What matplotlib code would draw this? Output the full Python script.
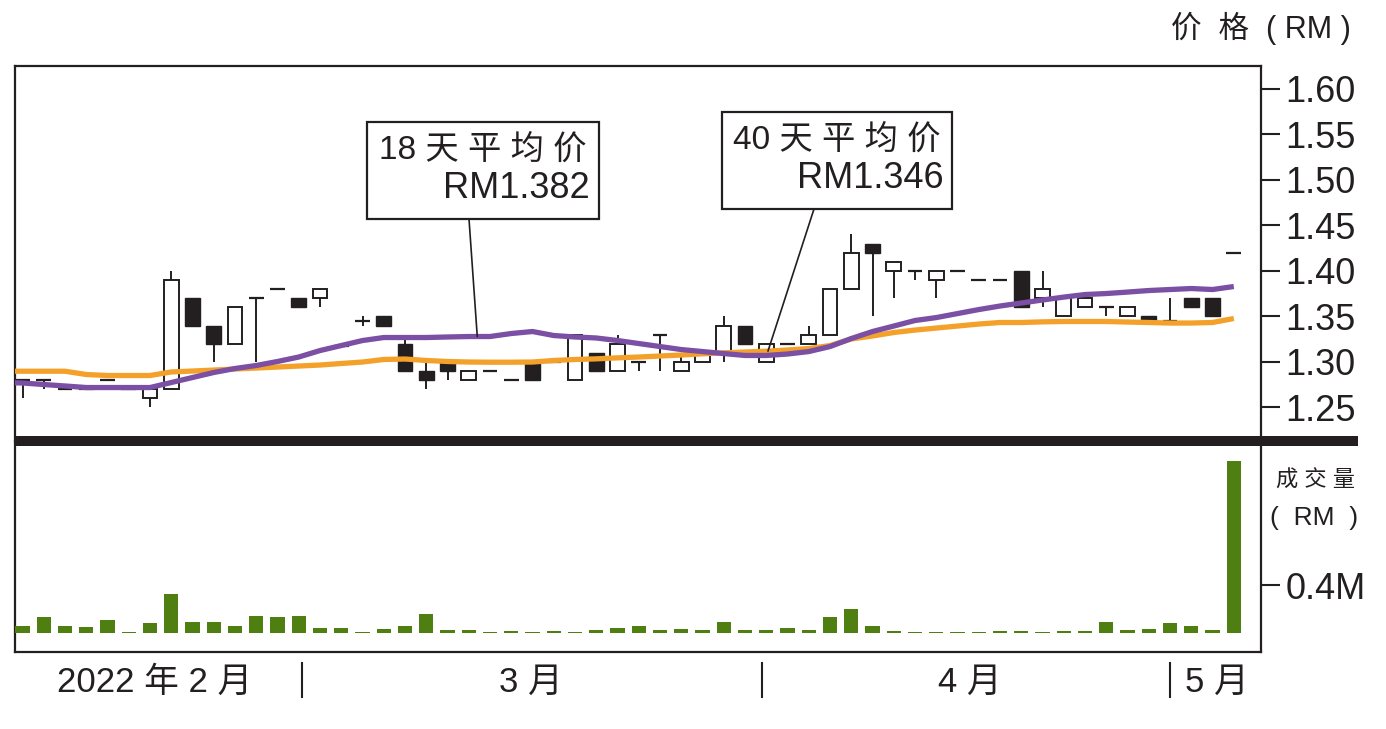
import numpy as np
import matplotlib
matplotlib.use('Agg')
import matplotlib.pyplot as plt
from matplotlib.patches import Rectangle
from matplotlib.transforms import blended_transform_factory

plt.rcParams['font.family'] = ['Liberation Sans', 'Noto Sans CJK SC', 'DejaVu Sans']

# ---------------- data ----------------
days = np.arange(58)
opens = [1.28, 1.28, 1.27, 1.27, 1.28, 1.27, 1.26, 1.27, 1.37, 1.34,
         1.32, 1.37, 1.38, 1.37, 1.37, 1.318, 1.345, 1.35, 1.32, 1.29,
         1.30, 1.28, 1.29, 1.28, 1.30, 1.30, 1.28, 1.31, 1.29, 1.30,
         1.33, 1.29, 1.30, 1.31, 1.34, 1.30, 1.32, 1.32, 1.33, 1.38,
         1.43, 1.40, 1.40, 1.39, 1.40, 1.39, 1.39, 1.40, 1.37, 1.35,
         1.36, 1.36, 1.35, 1.35, 1.345, 1.37, 1.37, 1.42]
highs = [1.28, 1.28, 1.27, 1.27, 1.28, 1.27, 1.27, 1.40, 1.37, 1.34,
         1.36, 1.37, 1.38, 1.37, 1.38, 1.318, 1.35, 1.35, 1.33, 1.30,
         1.30, 1.29, 1.29, 1.28, 1.30, 1.30, 1.33, 1.31, 1.33, 1.30,
         1.33, 1.31, 1.31, 1.35, 1.34, 1.32, 1.32, 1.34, 1.38, 1.44,
         1.43, 1.41, 1.40, 1.40, 1.40, 1.39, 1.39, 1.40, 1.40, 1.37,
         1.37, 1.36, 1.36, 1.35, 1.37, 1.37, 1.37, 1.42]
lows = [1.26, 1.27, 1.27, 1.27, 1.28, 1.27, 1.25, 1.27, 1.34, 1.30,
        1.32, 1.30, 1.38, 1.36, 1.36, 1.318, 1.34, 1.34, 1.29, 1.27,
        1.28, 1.28, 1.29, 1.28, 1.28, 1.30, 1.28, 1.29, 1.29, 1.29,
        1.29, 1.29, 1.30, 1.30, 1.32, 1.30, 1.32, 1.32, 1.33, 1.38,
        1.35, 1.37, 1.39, 1.37, 1.40, 1.39, 1.39, 1.36, 1.36, 1.35,
        1.36, 1.35, 1.35, 1.345, 1.345, 1.36, 1.35, 1.42]
closes = [1.28, 1.28, 1.27, 1.27, 1.28, 1.27, 1.27, 1.39, 1.34, 1.32,
          1.36, 1.37, 1.38, 1.36, 1.38, 1.318, 1.345, 1.34, 1.29, 1.28,
          1.29, 1.29, 1.29, 1.28, 1.28, 1.30, 1.33, 1.29, 1.32, 1.30,
          1.33, 1.30, 1.31, 1.34, 1.32, 1.32, 1.32, 1.33, 1.38, 1.42,
          1.42, 1.41, 1.40, 1.40, 1.40, 1.39, 1.39, 1.36, 1.38, 1.37,
          1.37, 1.36, 1.36, 1.345, 1.345, 1.36, 1.35, 1.42]
volume_m = [0.056, 0.129, 0.056, 0.045, 0.106, 0.008, 0.078, 0.324, 0.092, 0.092,
            0.056, 0.143, 0.129, 0.143, 0.042, 0.042, 0.008, 0.031, 0.056, 0.154,
            0.020, 0.020, 0.008, 0.017, 0.010, 0.017, 0.008, 0.020, 0.042, 0.056,
            0.020, 0.031, 0.020, 0.092, 0.020, 0.020, 0.042, 0.020, 0.129, 0.198,
            0.056, 0.017, 0.008, 0.008, 0.008, 0.008, 0.017, 0.017, 0.008, 0.017,
            0.017, 0.092, 0.022, 0.031, 0.078, 0.056, 0.020, 1.44]
ma_days = np.arange(-1, 58)
ma18 = [1.2774, 1.2769, 1.2752, 1.2736, 1.2719, 1.2719, 1.2719, 1.2719, 1.2774, 1.2829,
        1.2884, 1.2928, 1.2961, 1.3005, 1.3054, 1.3125, 1.3180, 1.3235, 1.3268, 1.3268,
        1.3268, 1.3274, 1.3279, 1.3279, 1.3312, 1.3334, 1.3290, 1.3274, 1.3263, 1.3235,
        1.3202, 1.3169, 1.3136, 1.3114, 1.3092, 1.3071, 1.3071, 1.3087, 1.3114, 1.3169,
        1.3257, 1.3334, 1.3394, 1.3455, 1.3487, 1.3531, 1.3575, 1.3614, 1.3647, 1.3680,
        1.3712, 1.3740, 1.3751, 1.3767, 1.3784, 1.3795, 1.3806, 1.3795, 1.3828]
ma40 = [1.2898, 1.2898, 1.2898, 1.2898, 1.2862, 1.2851, 1.2851, 1.2851, 1.2890, 1.2900,
        1.2911, 1.2922, 1.2933, 1.2944, 1.2955, 1.2966, 1.2983, 1.2999, 1.3027, 1.3032,
        1.3016, 1.3005, 1.2999, 1.2997, 1.2997, 1.2999, 1.3016, 1.3027, 1.3034, 1.3045,
        1.3054, 1.3065, 1.3076, 1.3089, 1.3100, 1.3109, 1.3118, 1.3131, 1.3147, 1.3180,
        1.3252, 1.3285, 1.3323, 1.3350, 1.3372, 1.3394, 1.3416, 1.3433, 1.3433, 1.3440,
        1.3444, 1.3444, 1.3444, 1.3438, 1.3433, 1.3427, 1.3427, 1.3433, 1.3477]
price_ticks = [1.25, 1.30, 1.35, 1.40, 1.45, 1.50, 1.55, 1.60]
volume_ticks = [0.4]
volume_tick_labels = ['0.4M']
month_labels = ['2022 年 2 月', '3 月', '4 月', '5 月']
month_label_pos = [6.24, 23.9, 44.6, 56.2]
month_dividers = [13.15, 34.8, 54.0]
ma18_label = '18 天 平 均 价'
ma18_value = 'RM1.382'
ma40_label = '40 天 平 均 价'
ma40_value = 'RM1.346'

# ---------------- style ----------------
ink = '#231f20'
purple = '#7B4FA3'
orange = '#F4A12C'
green = '#4F7F10'

W, H = 1386, 729
def fx(x):
    return x / W
def fy(y):
    return 1 - y / H

fig = plt.figure(figsize=(W / 100, H / 100), dpi=100)
fig.patch.set_facecolor('white')

ax = fig.add_axes([fx(15), fy(441), fx(1261) - fx(15), fy(66) - fy(441)])
axv = fig.add_axes([fx(15), fy(652), fx(1261) - fx(15), fy(441) - fy(652)], sharex=ax)

o = np.array(opens); h = np.array(highs); l = np.array(lows); c = np.array(closes)
body_w = 0.7
doji = np.isclose(o, c)
up = (c > o) & ~doji
down = (c < o) & ~doji

ax.vlines(days, l, h, color=ink, lw=1.4, zorder=2)
ax.bar(days[up], (c - o)[up], bottom=o[up], width=body_w, facecolor='white',
       edgecolor=ink, lw=1.4, zorder=3)
ax.bar(days[down], (o - c)[down], bottom=c[down], width=body_w, facecolor=ink,
       edgecolor=ink, lw=1.0, zorder=3)
ax.hlines(c[doji], days[doji] - body_w / 2, days[doji] + body_w / 2, color=ink,
          lw=1.6, zorder=3)

ax.plot(ma_days, ma40, color=orange, lw=3.8, zorder=4, solid_capstyle='butt')
ax.plot(ma_days, ma18, color=purple, lw=3.8, zorder=5, solid_capstyle='butt')

ax.set_xlim(-0.353, 58.28)
ax.set_ylim(1.2132, 1.6249)
ax.yaxis.tick_right()
ax.set_yticks(price_ticks)
ax.set_yticklabels([f'{t:.2f}' for t in price_ticks])
ax.tick_params(axis='y', direction='out', length=13.7, width=1.5, pad=4,
               labelsize=26, colors=ink)
ax.tick_params(axis='x', bottom=False, labelbottom=False)
for s in ['left', 'right', 'top']:
    ax.spines[s].set_linewidth(1.6)
    ax.spines[s].set_color(ink)
ax.spines['bottom'].set_visible(False)

# volume
axv.bar(days, volume_m, width=0.67, color=green, zorder=3)
axv.set_ylim(-0.1618, 1.6075)
axv.yaxis.tick_right()
axv.set_yticks(volume_ticks)
axv.set_yticklabels(volume_tick_labels)
axv.tick_params(axis='y', direction='out', length=13.7, width=1.5, pad=4,
                labelsize=26, colors=ink)
axv.tick_params(axis='x', bottom=False, labelbottom=False)
for s in ['left', 'right', 'bottom']:
    axv.spines[s].set_linewidth(1.6)
    axv.spines[s].set_color(ink)
axv.spines['top'].set_visible(False)

# month labels & dividers
trans = blended_transform_factory(axv.transData, axv.transAxes)
for lab, pos in zip(month_labels, month_label_pos):
    axv.text(pos, -0.142, lab, transform=trans, ha='center', va='center',
             fontsize=25, color=ink)
for d in month_dividers:
    axv.plot([d, d], [-0.052, -0.213], transform=trans, clip_on=False,
             color=ink, lw=1.5)

# thick separator
fig.add_artist(Rectangle((fx(14), fy(446)), fx(1358) - fx(14), fy(436) - fy(446),
                         transform=fig.transFigure, facecolor=ink, edgecolor='none',
                         zorder=5))

# side labels
fig.text(fx(1351), fy(28), '价  格  ( RM )', ha='right', va='center', fontsize=22, color=ink)
fig.text(fx(1315), fy(481), '成 交 量', ha='center', va='center', fontsize=16, color=ink)
fig.text(fx(1314), fy(518), '(  RM  )', ha='center', va='center', fontsize=19, color=ink)

# callouts
def callout(box, line1, line1_xy, line2, line2_xy, start, target_x, ma):
    x0, y0, x1, y1 = box
    fig.add_artist(Rectangle((fx(x0), fy(y1)), fx(x1) - fx(x0), fy(y0) - fy(y1),
                             transform=fig.transFigure, facecolor='white',
                             edgecolor=ink, lw=1.6, zorder=6))
    fig.text(fx(line1_xy[0]), fy(line1_xy[1]), line1, ha='left', va='center',
             fontsize=24, color=ink, zorder=7)
    fig.text(fx(line2_xy[0]), fy(line2_xy[1]), line2, ha='right', va='center',
             fontsize=26, color=ink, zorder=7)
    ty = np.interp(target_x, ma_days, ma)
    ax.annotate('', xy=(target_x, ty), xycoords='data',
                xytext=(fx(start[0]), fy(start[1])), textcoords='figure fraction',
                arrowprops=dict(arrowstyle='-', color=ink, lw=1.2,
                                shrinkA=0, shrinkB=0), zorder=6)

callout((367, 122, 599, 219), ma18_label, (379, 150), ma18_value, (590, 188),
        (469, 219), 21.4, ma18)
callout((722, 112, 952, 209), ma40_label, (733, 140), ma40_value, (944, 179),
        (814, 209), 35.08, ma40)

fig.savefig('out.png', dpi=100, facecolor='white')
